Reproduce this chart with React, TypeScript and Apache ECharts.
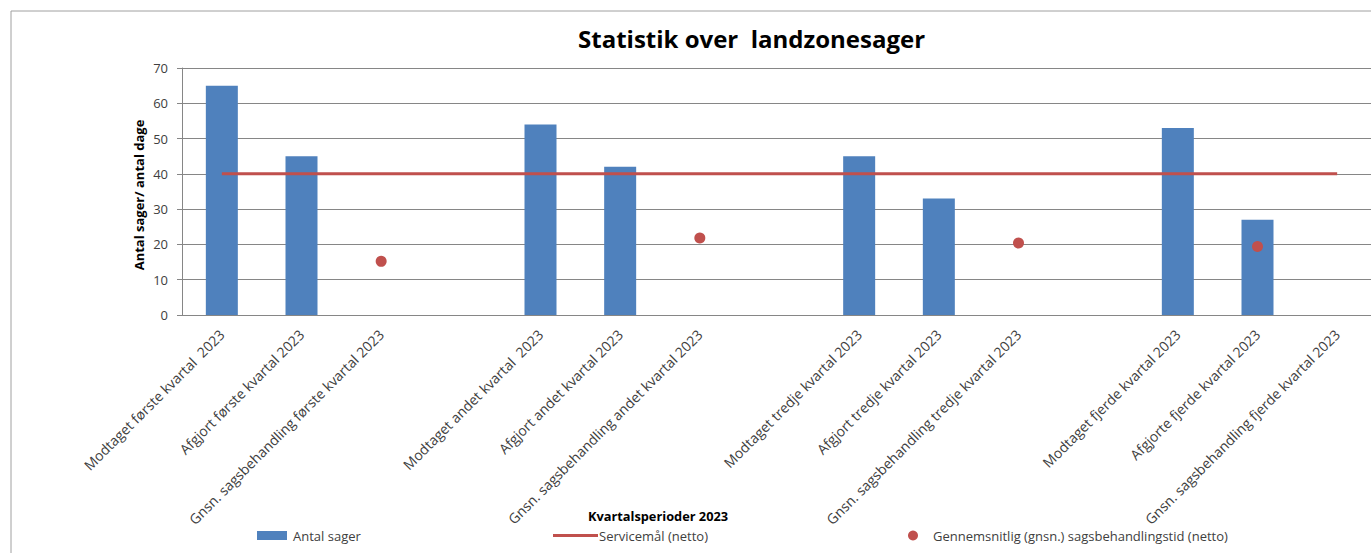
import React, { useEffect, useRef } from "react";
import * as echarts from "echarts";

const categories: string[] = [
  "Modtaget første kvartal  2023",
  "Afgjort første kvartal 2023",
  "Gnsn. sagsbehandling første kvartal 2023",
  "",
  "Modtaget andet kvartal  2023",
  "Afgjort andet kvartal 2023",
  "Gnsn. sagsbehandling andet kvartal 2023",
  "",
  "Modtaget tredje kvartal 2023",
  "Afgjort tredje kvartal 2023",
  "Gnsn. sagsbehandling tredje kvartal 2023",
  "",
  "Modtaget fjerde kvartal 2023",
  "Afgjorte fjerde kvartal 2023",
  "Gnsn. sagsbehandling fjerde kvartal 2023",
];

const antalSager: (number | null)[] = [65, 45, null, null, 54, 42, null, null, 45, 33, null, null, 53, 27, null];
const servicemaal: (number | null)[] = [40, 40, 40, 40, 40, 40, 40, 40, 40, 40, 40, 40, 40, 40, 40];
const gnsnTid: (number | null)[] = [null, null, 15.2, null, null, null, 21.8, null, null, null, 20.4, null, null, 19.4, null];

const TITLE = "Statistik over  landzonesager";
const Y_NAME = "Antal sager/ antal dage";
const X_NAME = "Kvartalsperioder 2023";
const S1 = "Antal sager";
const S2 = "Servicemål (netto)";
const S3 = "Gennemsnitlig (gnsn.) sagsbehandlingstid (netto)";

const FONT = "'Open Sans', Lato, sans-serif";

export default function App() {
  const ref = useRef<HTMLDivElement>(null);
  useEffect(() => {
    if (!ref.current) return;
    const chart = echarts.init(ref.current, undefined, { renderer: "svg" });
    chart.setOption({
      animation: false,
      backgroundColor: "#ffffff",
      textStyle: { fontFamily: FONT },
      title: {
        text: TITLE,
        left: 578,
        top: 26,
        padding: 0,
        textStyle: { fontFamily: FONT, fontSize: 24, fontWeight: "bold", color: "#000" },
      },
      graphic: [
        {
          type: "rect",
          shape: { x: 11, y: 11, width: 1400, height: 600 },
          style: { fill: "none", stroke: "#a0a0a0", lineWidth: 1 },
          silent: true,
          z: -1,
        },
        {
          type: "text",
          x: 139,
          y: 195,
          rotation: Math.PI / 2,
          style: {
            text: Y_NAME,
            fontFamily: FONT,
            fontSize: 13,
            fontWeight: "bold",
            fill: "#000",
            textAlign: "center",
            textVerticalAlign: "middle",
          },
        },
        {
          type: "text",
          x: 658,
          y: 516,
          style: {
            text: X_NAME,
            fontFamily: FONT,
            fontSize: 12.8,
            fontWeight: "bold",
            fill: "#000",
            textAlign: "center",
            textVerticalAlign: "middle",
          },
        },
      ],
      legend: [
        {
          data: [S1],
          left: 257,
          top: 529,
          padding: 0,
          icon: "rect",
          itemWidth: 30,
          itemHeight: 9,
          textStyle: { fontFamily: FONT, fontSize: 13, color: "#404040", padding: [0, 0, 0, 1] },
        },
        {
          data: [S2],
          left: 553,
          top: 529,
          padding: 0,
          icon: "rect",
          itemWidth: 45,
          itemHeight: 3,
          textStyle: { fontFamily: FONT, fontSize: 13, color: "#404040", padding: [0, 0, 0, -4] },
        },
        {
          data: [S3],
          left: 908,
          top: 529,
          padding: 0,
          icon: "circle",
          itemWidth: 10,
          itemHeight: 10,
          textStyle: { fontFamily: FONT, fontSize: 13, color: "#404040", padding: [0, 0, 0, 10] },
        },
      ],
      grid: { left: 182, top: 68, bottom: 238, right: 1, containLabel: false },
      xAxis: {
        type: "category",
        data: categories,
        axisTick: { show: false },
        axisLine: { lineStyle: { color: "#868686", width: 1 } },
        axisLabel: {
          interval: 0,
          rotate: 45,
          margin: 17,
          fontFamily: FONT,
          fontSize: 14,
          color: "#404040",
        },
        splitLine: { show: false },
      },
      yAxis: {
        type: "value",
        min: 0,
        max: 70,
        interval: 10,
        axisLine: { show: true, lineStyle: { color: "#868686", width: 1 } },
        axisTick: { show: true, length: 5, lineStyle: { color: "#868686" } },
        axisLabel: { margin: 14, fontFamily: FONT, fontSize: 13, color: "#404040" },
        splitLine: { lineStyle: { color: "#868686", width: 1 } },
      },
      series: [
        {
          name: S1,
          type: "bar",
          data: antalSager,
          barWidth: 32,
          itemStyle: { color: "#4F81BD" },
          z: 2,
        },
        {
          name: S2,
          type: "line",
          data: servicemaal,
          showSymbol: false,
          symbol: "none",
          lineStyle: { color: "#C0504D", width: 3 },
          itemStyle: { color: "#C0504D" },
          z: 3,
        },
        {
          name: S3,
          type: "scatter",
          data: gnsnTid,
          symbol: "circle",
          symbolSize: 11,
          itemStyle: { color: "#C0504D", opacity: 1 },
          z: 4,
        },
      ],
    });
    return () => chart.dispose();
  }, []);
  return (
    <div style={{ position: "absolute", left: 0, top: 0, width: 1371, height: 553, overflow: "hidden" }}>
      <div ref={ref} style={{ width: 1378, height: 553 }} />
    </div>
  );
}
